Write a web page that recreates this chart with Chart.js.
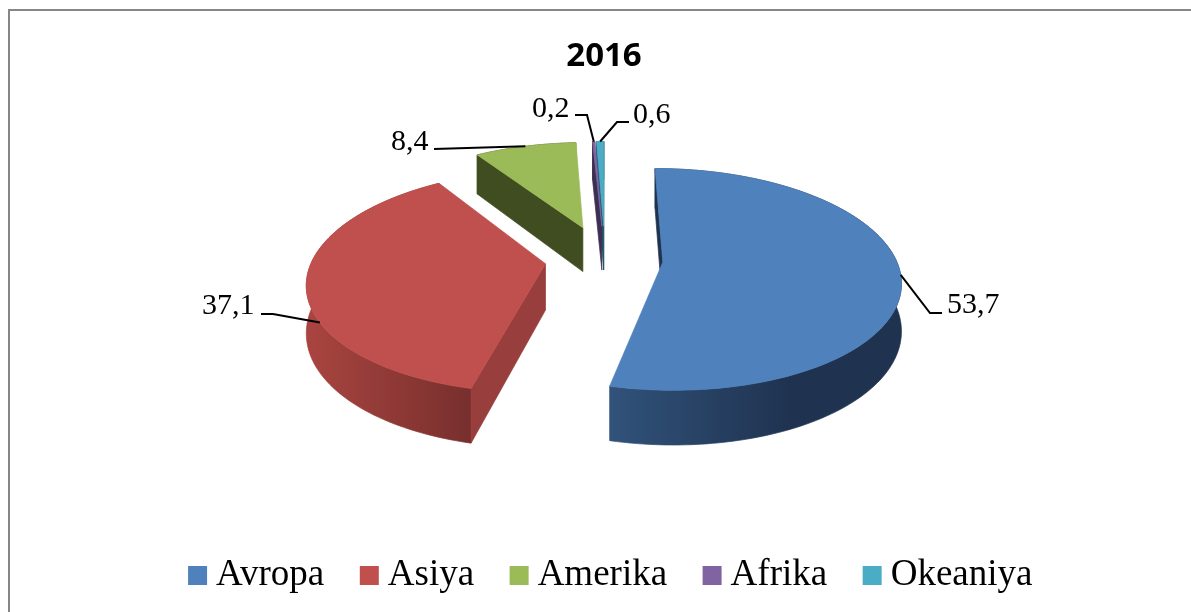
<!DOCTYPE html>
<html>
<head>
<meta charset="utf-8">
<script src="https://cdn.jsdelivr.net/npm/chart.js@4"></script>
<style>
  html, body { margin: 0; padding: 0; background: #fff; overflow: hidden; }
  canvas { display: block; }
</style>
</head>
<body>
<canvas id="pieChart" width="1191" height="612"></canvas>
<script>
const categories = ['Avropa', 'Asiya', 'Amerika', 'Afrika', 'Okeaniya'];
const shares = [53.7, 37.1, 8.4, 0.2, 0.6];
const chartTitle = '2016';

const topColors = ['#4f81bd', '#c0504d', '#9bbb59', '#8064a2', '#4bacc6'];
const cutColors = ['#1f3350', '#983e3c', '#404d21', '#3c2f52', '#24566a'];
const rimStops = [
  [[610, '#31527a'], [790, '#1f3350']],
  [[310, '#a8443f'], [472, '#772f2d']],
  [[480, '#404d21'], [590, '#404d21']],
  [[590, '#3c2f52'], [610, '#3c2f52']],
  [[590, '#24566a'], [610, '#24566a']]
];

// how far each slice is pulled out of the pie
const explode = [58, 60, 75, 75, 75];

// camera for the fake 3D, worked out by eye from the picture
const vanishX = 605, vanishY = 259, camera = 1500, tilt = 0.46, thickness = 46;

// value labels: text start/baseline, leader elbow points, where on the rim the leader starts
const labelFont = '30px "Liberation Serif"';
const labelSpots = [
  { x: 947, y: 313, frac: 0.5, elbow: [[930, 313], [942, 313]] },
  { x: 202, y: 314, frac: 0.35, elbow: [[273, 314], [261, 314]] },
  { x: 391, y: 150, frac: 0.5, elbow: [[434, 149]] },
  { x: 532, y: 117, frac: 0.5, elbow: [[587, 115], [575, 115]] },
  { x: 633, y: 123, frac: 0.5, elbow: [[617, 122], [629, 122]] }
];

function project(u, v, h) {
  const f = camera / (camera - v);
  return { x: vanishX + u * f, y: vanishY + (v * tilt + h) * f };
}

function sliceOutline(arc, i) {
  const mid = (arc.startAngle + arc.endAngle) / 2;
  const u0 = explode[i] * Math.cos(mid);
  const v0 = explode[i] * Math.sin(mid);
  const steps = Math.max(2, Math.ceil((arc.endAngle - arc.startAngle) * 40));
  const rim = [];
  for (let s = 0; s <= steps; s++) {
    const a = arc.startAngle + (arc.endAngle - arc.startAngle) * s / steps;
    rim.push([u0 + arc.outerRadius * Math.cos(a), v0 + arc.outerRadius * Math.sin(a)]);
  }
  return { apex: [u0, v0], rim: rim };
}

function fillPoly(ctx, pts, fill) {
  ctx.beginPath();
  pts.forEach((p, n) => n ? ctx.lineTo(p.x, p.y) : ctx.moveTo(p.x, p.y));
  ctx.closePath();
  ctx.fillStyle = fill;
  ctx.strokeStyle = fill;
  ctx.lineWidth = 0.7;
  ctx.fill();
  ctx.stroke();
}

// a cut face only shows when the slice lies above its top edge on screen
function cutFacesViewer(a, b, inside) {
  const dx = b.x - a.x;
  if (Math.abs(dx) < 0.01) return true;
  const lineY = a.y + (b.y - a.y) * (inside.x - a.x) / dx;
  return inside.y < lineY;
}

function drawSlice(ctx, arc, i) {
  const { apex, rim } = sliceOutline(arc, i);
  const grad = ctx.createLinearGradient(rimStops[i][0][0], 0, rimStops[i][1][0], 0);
  grad.addColorStop(0, rimStops[i][0][1]);
  grad.addColorStop(1, rimStops[i][1][1]);

  // outer wall in one piece so the gradient has no seams
  const upper = rim.map(p => project(p[0], p[1], 0));
  const lower = rim.map(p => project(p[0], p[1], thickness)).reverse();
  fillPoly(ctx, upper.concat(lower), grad);

  const apexTop = project(apex[0], apex[1], 0);
  const midRim = upper[Math.floor(upper.length / 2)];
  [rim[0], rim[rim.length - 1]].forEach(p => {
    const edgeTop = project(p[0], p[1], 0);
    if (!cutFacesViewer(apexTop, edgeTop, midRim)) return;
    fillPoly(ctx, [
      apexTop, edgeTop,
      project(p[0], p[1], thickness), project(apex[0], apex[1], thickness)
    ], cutColors[i]);
  });

  const top = [apex].concat(rim).map(p => project(p[0], p[1], 0));
  fillPoly(ctx, top, topColors[i]);
}

function rimPoint(arc, i, frac) {
  const mid = (arc.startAngle + arc.endAngle) / 2;
  const a = arc.startAngle + (arc.endAngle - arc.startAngle) * frac;
  return project(
    explode[i] * Math.cos(mid) + arc.outerRadius * Math.cos(a),
    explode[i] * Math.sin(mid) + arc.outerRadius * Math.sin(a),
    0
  );
}

const pie3d = {
  id: 'pie3d',
  beforeDraw(chart) {
    const ctx = chart.ctx;
    ctx.save();
    ctx.fillStyle = '#fff';
    ctx.fillRect(0, 0, chart.width, chart.height);
    ctx.strokeStyle = '#868686';
    ctx.lineWidth = 2;
    ctx.beginPath();
    ctx.moveTo(9, chart.height + 2);
    ctx.lineTo(9, 10);
    ctx.lineTo(chart.width + 2, 10);
    ctx.stroke();
    ctx.restore();
  },
  afterLayout(chart) {
    // legend items sit tighter than the built-in layout wants
    const lg = chart.legend;
    const h = lg.bottom - lg.top;
    lg.left += 11;
    lg.right += 11;
    lg.top = 512;
    lg.bottom = lg.top + h;
  },
  beforeDatasetDraw(chart) {
    const ctx = chart.ctx;
    const arcs = chart.getDatasetMeta(0).data;
    ctx.save();
    const order = arcs.map((a, i) => i).sort((p, q) => {
      const vp = explode[p] * Math.sin((arcs[p].startAngle + arcs[p].endAngle) / 2);
      const vq = explode[q] * Math.sin((arcs[q].startAngle + arcs[q].endAngle) / 2);
      return vp - vq;
    });
    order.forEach(i => drawSlice(ctx, arcs[i], i));

    // leaders and value labels
    ctx.strokeStyle = '#000';
    ctx.lineWidth = 2;
    ctx.fillStyle = '#000';
    ctx.font = labelFont;
    ctx.textAlign = 'left';
    ctx.textBaseline = 'alphabetic';
    arcs.forEach((arc, i) => {
      const spot = labelSpots[i];
      const from = rimPoint(arc, i, spot.frac);
      ctx.beginPath();
      ctx.moveTo(from.x, from.y);
      spot.elbow.forEach(p => ctx.lineTo(p[0], p[1]));
      ctx.stroke();
      ctx.fillText(shares[i].toFixed(1).replace('.', ','), spot.x, spot.y);
    });
    ctx.restore();
    return false;
  }
};

new Chart(document.getElementById('pieChart').getContext('2d'), {
  type: 'pie',
  data: {
    labels: categories,
    datasets: [{
      data: shares,
      backgroundColor: topColors,
      borderWidth: 0,
      radius: 233
    }]
  },
  options: {
    responsive: false,
    animation: false,
    events: [],
    layout: { padding: { left: 17, top: 25 } },
    plugins: {
      tooltip: { enabled: false },
      title: {
        display: true,
        text: chartTitle,
        color: '#000',
        font: { family: '"Open Sans"', size: 33, weight: 'bold' },
        padding: { top: 12, bottom: 10 }
      },
      legend: {
        position: 'bottom',
        labels: {
          usePointStyle: true,
          pointStyle: 'rect',
          boxWidth: 0.01,
          boxHeight: 19,
          padding: 45,
          color: '#000',
          font: { family: '"Liberation Serif"', size: 37 }
        }
      }
    }
  },
  plugins: [pie3d]
});
</script>
</body>
</html>
